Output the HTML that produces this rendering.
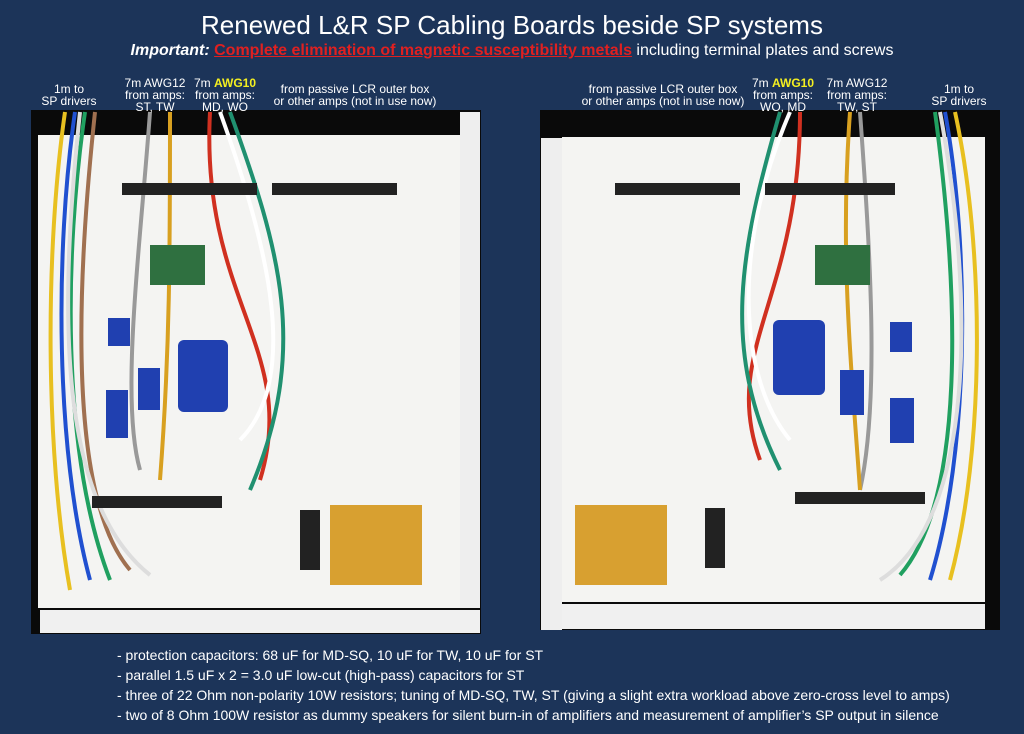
<!DOCTYPE html>
<html><head><meta charset="utf-8"><style>
body{margin:0;width:1024px;height:734px;background:#1c3459;font-family:"Liberation Sans",sans-serif;color:#fff;position:relative;overflow:hidden}
.a{position:absolute}
.lbl{position:absolute;font-size:12px;line-height:12px;text-align:center;white-space:nowrap;z-index:5}
.y{color:#f5f020;font-weight:bold}
</style></head><body>
<div class="a" style="left:0;width:1024px;top:10px;text-align:center;font-size:26px">Renewed L&amp;R SP Cabling Boards beside SP systems</div>
<div class="a" style="left:0;width:1024px;top:42px;text-align:center;font-size:16px"><b><i>Important:</i></b> <b style="color:#e02020;text-decoration:underline">Complete elimination of magnetic susceptibility metals</b> including terminal plates and screws</div>

<svg class="a" style="left:0;top:0" width="1024" height="734">
<rect x="31" y="110" width="450" height="524" fill="#0a0a0a"/>
<rect x="38" y="135" width="422" height="473" fill="#f4f4f2"/>
<rect x="40" y="610" width="440" height="23" fill="#f0f0f0"/>
<rect x="460" y="112" width="20" height="496" fill="#eee"/>
<rect x="540" y="110" width="460" height="520" fill="#0a0a0a"/>
<rect x="562" y="137" width="423" height="465" fill="#f4f4f2"/>
<rect x="562" y="604" width="423" height="25" fill="#f0f0f0"/>
<rect x="541" y="138" width="21" height="492" fill="#eee"/>
<g fill="none" stroke-width="4">
<path d="M65 112 C45 250 45 450 70 590" stroke="#e8c020"/>
<path d="M75 112 C55 250 55 450 90 580" stroke="#2050d0"/>
<path d="M85 112 C65 250 60 450 110 580" stroke="#20a060"/>
<path d="M95 112 C75 300 70 500 130 570" stroke="#a07050"/>
<path d="M80 112 C60 300 55 500 150 575" stroke="#ddd"/>
<path d="M210 112 C200 300 300 350 260 480" stroke="#d03020"/>
<path d="M230 112 C280 250 310 350 250 490" stroke="#209070"/>
<path d="M220 112 C270 250 300 380 240 440" stroke="#fff"/>
<path d="M150 112 C140 250 120 400 140 470" stroke="#999"/>
<path d="M170 112 C170 250 170 350 160 480" stroke="#d8a020"/>
<path d="M955 112 C985 250 985 450 950 580" stroke="#e8c020"/>
<path d="M945 112 C970 250 970 450 930 580" stroke="#2050d0"/>
<path d="M935 112 C960 300 965 500 900 575" stroke="#20a060"/>
<path d="M940 112 C975 300 975 520 880 580" stroke="#ddd"/>
<path d="M800 112 C800 300 720 350 760 460" stroke="#d03020"/>
<path d="M780 112 C740 250 720 350 780 470" stroke="#209070"/>
<path d="M790 112 C730 250 740 380 790 440" stroke="#fff"/>
<path d="M860 112 C870 250 880 400 860 490" stroke="#999"/>
<path d="M850 112 C840 250 850 350 860 490" stroke="#d8a020"/>
</g>
<g fill="#222"><rect x="122" y="183" width="135" height="12"/><rect x="272" y="183" width="125" height="12"/>
<rect x="92" y="496" width="130" height="12"/><rect x="615" y="183" width="125" height="12"/>
<rect x="765" y="183" width="130" height="12"/><rect x="795" y="492" width="130" height="12"/>
<rect x="300" y="510" width="20" height="60"/><rect x="705" y="508" width="20" height="60"/></g>
<g fill="#2040b0"><rect x="178" y="340" width="50" height="72" rx="6"/><rect x="108" y="318" width="22" height="28"/><rect x="106" y="390" width="22" height="48"/><rect x="138" y="368" width="22" height="42"/>
<rect x="773" y="320" width="52" height="75" rx="6"/><rect x="840" y="370" width="24" height="45"/><rect x="890" y="398" width="24" height="45"/><rect x="890" y="322" width="22" height="30"/></g>
<g fill="#2f7040"><rect x="150" y="245" width="55" height="40"/><rect x="815" y="245" width="55" height="40"/></g>
<g fill="#d8a030"><rect x="330" y="505" width="92" height="80"/><rect x="575" y="505" width="92" height="80"/></g>
</svg>

<div class="lbl" style="left:36px;top:83px;width:66px">1m to<br>SP drivers</div>
<div class="lbl" style="left:122px;top:77px;width:66px">7m AWG12<br>from amps:<br>ST, TW</div>
<div class="lbl" style="left:192px;top:77px;width:66px">7m <span class="y">AWG10</span><br>from amps:<br>MD, WO</div>
<div class="lbl" style="left:270px;top:83px;width:170px">from passive LCR outer box<br>or other amps (not in use now)</div>
<div class="lbl" style="left:578px;top:83px;width:170px">from passive LCR outer box<br>or other amps (not in use now)</div>
<div class="lbl" style="left:750px;top:77px;width:66px">7m <span class="y">AWG10</span><br>from amps:<br>WO, MD</div>
<div class="lbl" style="left:824px;top:77px;width:66px">7m AWG12<br>from amps:<br>TW, ST</div>
<div class="lbl" style="left:926px;top:83px;width:66px">1m to<br>SP drivers</div>

<div class="a" style="left:117px;top:645px;font-size:14px;line-height:20px">
- protection capacitors: 68 uF for MD-SQ, 10 uF for TW, 10 uF for ST<br>
- parallel 1.5 uF x 2 = 3.0 uF low-cut (high-pass) capacitors for ST<br>
- three of 22 Ohm non-polarity 10W resistors; tuning of MD-SQ, TW, ST (giving a slight extra workload above zero-cross level to amps)<br>
- two of 8 Ohm 100W resistor as dummy speakers for silent burn-in of amplifiers and measurement of amplifier’s SP output in silence</div>
</body></html>
